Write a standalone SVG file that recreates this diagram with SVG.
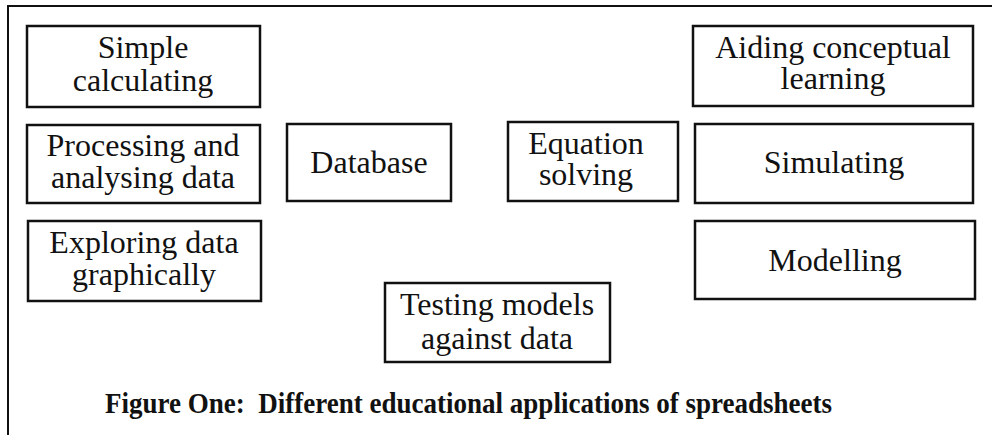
<svg xmlns="http://www.w3.org/2000/svg" width="992" height="435" viewBox="0 0 992 435">
  <style>
    .box { fill: #ffffff; stroke: #111111; stroke-width: 2.5; }
    .lbl { font-family: "Liberation Serif", "DejaVu Serif", serif; font-size: 32px; fill: #111111; text-anchor: middle; }
    .cap { font-family: "Liberation Serif", "DejaVu Serif", serif; font-size: 30px; font-weight: bold; fill: #111111; white-space: pre; }
    .frame { fill: none; stroke: #111111; stroke-width: 2; }
  </style>
  <rect width="992" height="435" fill="#ffffff"/>
  <!-- outer frame: top rule and left rule only -->
  <path class="frame" d="M8,435 V6 H992"/>

  <g id="simple-calculating">
    <rect class="box" x="27" y="26" width="233" height="81"/>
    <text class="lbl" x="143" y="58">Simple</text>
    <text class="lbl" x="143" y="91">calculating</text>
  </g>
  <g id="processing-data">
    <rect class="box" x="27" y="125" width="233" height="78"/>
    <text class="lbl" x="143" y="156">Processing and</text>
    <text class="lbl" x="143" y="188">analysing data</text>
  </g>
  <g id="exploring-data">
    <rect class="box" x="28" y="221" width="233" height="80"/>
    <text class="lbl" x="144" y="253">Exploring data</text>
    <text class="lbl" x="144" y="285">graphically</text>
  </g>
  <g id="database">
    <rect class="box" x="287" y="124" width="164" height="77"/>
    <text class="lbl" x="369" y="173">Database</text>
  </g>
  <g id="equation-solving">
    <rect class="box" x="508" y="122" width="170" height="79"/>
    <text class="lbl" x="586" y="154">Equation</text>
    <text class="lbl" x="586" y="185">solving</text>
  </g>
  <g id="testing-models">
    <rect class="box" x="385" y="283" width="225" height="79"/>
    <text class="lbl" x="497" y="315">Testing models</text>
    <text class="lbl" x="497" y="349">against data</text>
  </g>
  <g id="aiding-learning">
    <rect class="box" x="693" y="26" width="280" height="80"/>
    <text class="lbl" x="833" y="58">Aiding conceptual</text>
    <text class="lbl" x="833" y="89">learning</text>
  </g>
  <g id="simulating">
    <rect class="box" x="695" y="124" width="278" height="79"/>
    <text class="lbl" x="834" y="173">Simulating</text>
  </g>
  <g id="modelling">
    <rect class="box" x="695" y="221" width="280" height="78"/>
    <text class="lbl" x="835" y="271">Modelling</text>
  </g>

  <g id="connectors"></g>

  <text class="cap" x="105" y="413" textLength="727" lengthAdjust="spacingAndGlyphs">Figure One:  Different educational applications of spreadsheets</text>
</svg>
